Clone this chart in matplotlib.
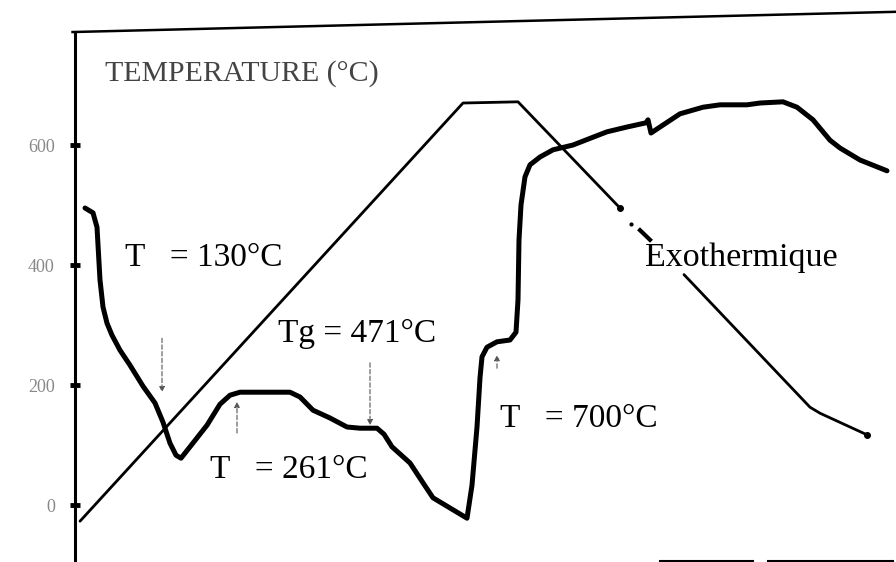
import numpy as np
import matplotlib
matplotlib.use('Agg')
import matplotlib.pyplot as plt

plt.rcParams['font.family'] = ['Liberation Serif', 'DejaVu Serif']

# temperature programme (thin line), time in arbitrary units, T in degC
prog_t = [5, 388, 443, 545]
prog_T = [-27, 670, 672, 495]
prog_dot_t = [556]
prog_dot_T = [468]
prog_dash_t = [565, 575]
prog_dash_T = [458, 442]
prog_end_t = [609, 735, 745, 792]
prog_end_T = [384, 163, 153, 117]

# DTA signal (thick line)
dta_t = [10, 18, 22, 25, 28, 32, 37, 45, 55, 68, 80, 88, 95, 101, 106, 115,
         132, 145, 155, 165, 215, 225, 238, 255, 272, 285, 302, 309, 317,
         335, 348, 358, 378, 392, 397, 402, 405, 407, 412, 422, 435, 441,
         443, 444, 446, 450, 455, 465, 478, 498, 518, 532, 552, 571, 573,
         576, 585, 605, 628, 645, 672, 685, 708, 722, 738, 755, 765, 785, 812]
dta_T = [495, 487, 463, 375, 330, 303, 283, 258, 233, 198, 170, 138, 103, 83,
         78, 97, 133, 168, 183, 188, 188, 180, 158, 145, 130, 128, 128, 118,
         97, 70, 37, 12, -8, -22, 33, 130, 212, 247, 263, 272, 275, 288, 342,
         442, 500, 547, 567, 580, 592, 600, 613, 622, 630, 637, 642, 620, 630,
         652, 663, 667, 667, 670, 672, 663, 642, 608, 595, 575, 557]

yticks = [0, 200, 400, 600]
ytick_labels = ['0', '200', '400', '600']

fig = plt.figure(figsize=(8.96, 5.62), dpi=100)
ax = fig.add_axes([75 / 896, 0, 821 / 896, 1])
ax.set_xlim(0, 821)
ax.set_ylim(-95, 841.7)

for s in ['top', 'right', 'bottom']:
    ax.spines[s].set_visible(False)
ax.spines['left'].set_linewidth(2.2)
ax.spines['left'].set_bounds(-95, 788)

ax.set_xticks([])
ax.set_yticks(yticks)
ax.set_yticklabels(ytick_labels, fontsize=13, color='#888888')
ax.tick_params(axis='y', direction='inout', length=7, width=3.5, pad=11)

# slanted top frame and scraps of the bottom frame from the scan
ax.plot([-0.003, 1], [0.943, 0.979], color='black', lw=1.8,
        transform=ax.transAxes, clip_on=False)
ax.plot([0.7125, 0.826], [0.002, 0.002], color='black', lw=1.5,
        transform=ax.transAxes, clip_on=False)
ax.plot([0.844, 0.996], [0.002, 0.002], color='black', lw=1.5,
        transform=ax.transAxes, clip_on=False)

# temperature programme
ax.plot(prog_t, prog_T, color='black', lw=2.0, solid_capstyle='round')
ax.plot(prog_dot_t, prog_dot_T, 'o', color='black', ms=2)
ax.plot(prog_dash_t, prog_dash_T, color='black', lw=3)
ax.plot(prog_end_t, prog_end_T, color='black', lw=2.0, solid_capstyle='round')
ax.plot(prog_end_t[-1:], prog_end_T[-1:], 'o', color='black', ms=4)
ax.plot(prog_t[-1:], prog_T[-1:], 'o', color='black', ms=4)

# DTA curve
ax.plot(dta_t, dta_T, color='black', lw=3.6, solid_capstyle='round',
        solid_joinstyle='round')

# labels
ax.text(30, 708, 'TEMPERATURE (°C)', fontsize=21.5, color='#444444',
        va='baseline', ha='left')
ax.text(50, 398, 'T   = 130°C', fontsize=24, va='baseline', ha='left')
ax.text(203, 272, 'Tg = 471°C', fontsize=24, va='baseline', ha='left')
ax.text(135, 45, 'T   = 261°C', fontsize=24, va='baseline', ha='left')
ax.text(425, 130, 'T   = 700°C', fontsize=24, va='baseline', ha='left')
ax.text(570, 398, 'Exothermique', fontsize=24.5, va='baseline', ha='left')

arrow_kw = dict(arrowstyle='-|>', lw=0.8, color='#555555',
                linestyle=(0, (4, 2)), mutation_scale=8,
                shrinkA=0, shrinkB=0)
ax.annotate('', xy=(87, 188), xytext=(87, 278), arrowprops=arrow_kw)
ax.annotate('', xy=(295, 133), xytext=(295, 237), arrowprops=arrow_kw)
ax.annotate('', xy=(162, 172), xytext=(162, 120), arrowprops=arrow_kw)
ax.annotate('', xy=(422, 250), xytext=(422, 228), arrowprops=arrow_kw)

fig.savefig('out.png', dpi=100)
